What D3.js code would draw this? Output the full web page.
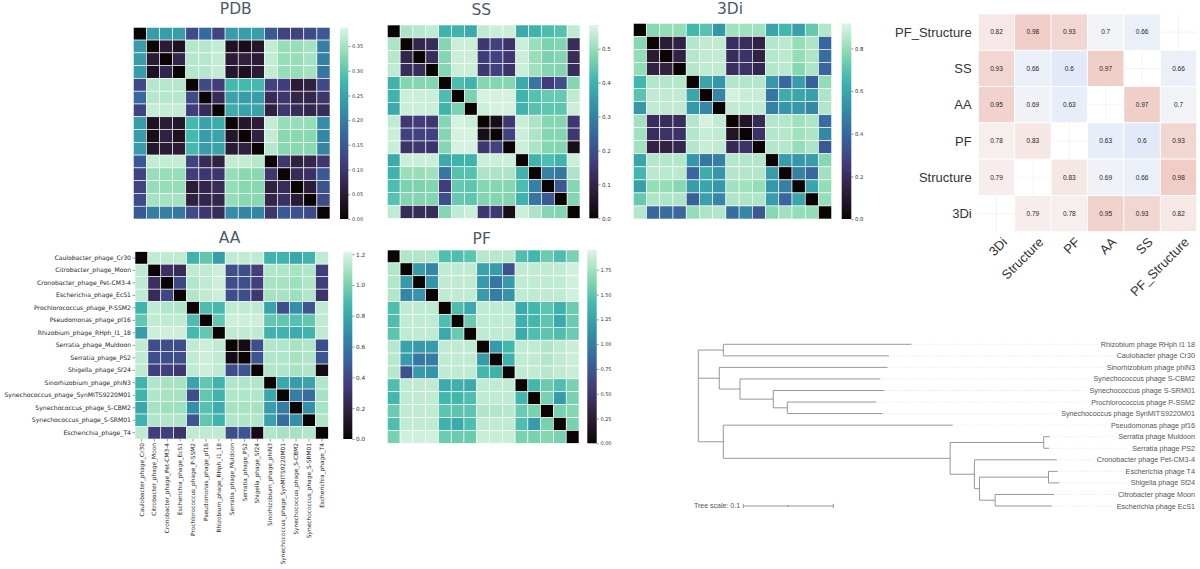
<!DOCTYPE html>
<html><head><meta charset="utf-8">
<script src="https://cdn.jsdelivr.net/npm/d3@7"></script>
<style>body{margin:0;background:#fff;} svg{display:block;}</style>
</head><body>
<svg id="c" width="1200" height="569"></svg>
<script>
const phages = ["Caulobacter_phage_Cr30","Citrobacter_phage_Moon","Cronobacter_phage_Pet-CM3-4","Escherichia_phage_EcS1","Prochlorococcus_phage_P-SSM2","Pseudomonas_phage_pf16","Rhizobium_phage_RHph_I1_18","Serratia_phage_Muldoon","Serratia_phage_PS2","Shigella_phage_Sf24","Sinorhizobium_phage_phiN3","Synechococcus_phage_SynMITS9220M01","Synechococcus_phage_S-CBM2","Synechococcus_phage_S-SRM01","Escherichia_phage_T4"];

const pdbDist = [
[0,0.24,0.24,0.24,0.13,0.17,0.12,0.24,0.24,0.24,0.15,0.12,0.12,0.13,0.15],
[0.24,0,0.05,0.03,0.36,0.36,0.37,0.03,0.02,0.04,0.37,0.34,0.34,0.35,0.20],
[0.24,0.05,0,0.07,0.36,0.36,0.37,0.05,0.06,0.05,0.37,0.34,0.34,0.35,0.20],
[0.24,0.03,0.07,0,0.36,0.36,0.37,0.04,0.03,0.05,0.37,0.34,0.34,0.35,0.19],
[0.13,0.36,0.36,0.36,0,0.13,0.11,0.28,0.28,0.28,0.12,0.11,0.05,0.06,0.13],
[0.17,0.36,0.36,0.36,0.13,0,0.08,0.25,0.24,0.24,0.08,0.10,0.07,0.07,0.10],
[0.12,0.37,0.37,0.37,0.11,0.08,0,0.26,0.25,0.25,0.06,0.10,0.08,0.07,0.08],
[0.24,0.03,0.05,0.04,0.28,0.25,0.26,0,0.04,0.05,0.37,0.34,0.34,0.34,0.22],
[0.24,0.02,0.06,0.03,0.28,0.24,0.25,0.04,0,0.06,0.37,0.33,0.33,0.33,0.21],
[0.24,0.04,0.05,0.05,0.28,0.24,0.25,0.05,0.06,0,0.36,0.33,0.33,0.33,0.21],
[0.15,0.37,0.37,0.37,0.12,0.08,0.06,0.37,0.37,0.36,0,0.10,0.06,0.07,0.10],
[0.12,0.34,0.34,0.34,0.11,0.10,0.10,0.34,0.33,0.33,0.10,0,0.08,0.09,0.15],
[0.12,0.34,0.34,0.34,0.05,0.07,0.08,0.34,0.33,0.33,0.06,0.08,0,0.05,0.14],
[0.13,0.35,0.35,0.35,0.06,0.07,0.07,0.34,0.33,0.33,0.07,0.09,0.05,0,0.13],
[0.15,0.20,0.20,0.19,0.13,0.10,0.08,0.22,0.21,0.21,0.10,0.15,0.14,0.13,0]];

const ssDist = [
[0,0.52,0.53,0.54,0.40,0.40,0.38,0.54,0.55,0.55,0.38,0.40,0.42,0.43,0.54],
[0.52,0,0.10,0.12,0.48,0.55,0.55,0.15,0.17,0.14,0.55,0.50,0.47,0.48,0.12],
[0.53,0.10,0,0.12,0.48,0.55,0.55,0.16,0.17,0.15,0.55,0.50,0.47,0.48,0.12],
[0.54,0.12,0.12,0,0.48,0.55,0.55,0.15,0.17,0.14,0.55,0.51,0.48,0.48,0.12],
[0.40,0.48,0.48,0.48,0,0.42,0.40,0.48,0.48,0.48,0.38,0.28,0.16,0.20,0.48],
[0.40,0.55,0.55,0.55,0.42,0,0.47,0.56,0.56,0.56,0.40,0.43,0.45,0.45,0.54],
[0.38,0.55,0.55,0.55,0.40,0.47,0,0.55,0.56,0.56,0.40,0.43,0.44,0.44,0.55],
[0.54,0.15,0.16,0.15,0.48,0.56,0.55,0,0.03,0.15,0.55,0.52,0.48,0.48,0.15],
[0.55,0.17,0.17,0.17,0.48,0.56,0.56,0.03,0,0.17,0.55,0.52,0.48,0.48,0.15],
[0.55,0.14,0.15,0.14,0.48,0.56,0.56,0.15,0.17,0,0.55,0.52,0.48,0.48,0.03],
[0.38,0.55,0.55,0.55,0.38,0.40,0.40,0.55,0.55,0.55,0,0.40,0.42,0.40,0.55],
[0.40,0.50,0.50,0.51,0.28,0.43,0.43,0.52,0.52,0.52,0.40,0,0.30,0.28,0.52],
[0.42,0.47,0.47,0.48,0.16,0.45,0.44,0.48,0.48,0.48,0.42,0.30,0,0.22,0.48],
[0.43,0.48,0.48,0.48,0.20,0.45,0.44,0.48,0.48,0.48,0.40,0.28,0.22,0,0.48],
[0.54,0.12,0.12,0.12,0.48,0.54,0.55,0.15,0.15,0.03,0.55,0.52,0.48,0.48,0]];

const diDist = [
[0,0.78,0.80,0.80,0.66,0.70,0.55,0.82,0.82,0.82,0.60,0.66,0.58,0.72,0.85],
[0.78,0,0.12,0.15,0.85,0.87,0.87,0.20,0.20,0.15,0.85,0.86,0.80,0.84,0.40],
[0.80,0.12,0,0.15,0.85,0.87,0.87,0.20,0.22,0.15,0.85,0.86,0.80,0.84,0.42],
[0.80,0.15,0.15,0,0.85,0.87,0.87,0.20,0.22,0.17,0.85,0.86,0.78,0.84,0.40],
[0.66,0.85,0.85,0.85,0,0.60,0.55,0.85,0.85,0.85,0.55,0.40,0.57,0.38,0.80],
[0.70,0.87,0.87,0.87,0.60,0,0.50,0.90,0.88,0.88,0.45,0.62,0.60,0.58,0.84],
[0.55,0.87,0.87,0.87,0.55,0.50,0,0.87,0.87,0.87,0.48,0.55,0.55,0.50,0.85],
[0.82,0.20,0.20,0.20,0.85,0.90,0.87,0,0.08,0.18,0.85,0.85,0.82,0.84,0.42],
[0.82,0.20,0.22,0.22,0.85,0.88,0.87,0.08,0,0.22,0.85,0.85,0.82,0.84,0.50],
[0.82,0.15,0.15,0.17,0.85,0.88,0.87,0.18,0.22,0,0.85,0.85,0.80,0.84,0.35],
[0.60,0.85,0.85,0.85,0.55,0.45,0.48,0.85,0.85,0.85,0,0.57,0.55,0.57,0.78],
[0.66,0.86,0.86,0.86,0.40,0.62,0.55,0.85,0.85,0.85,0.57,0,0.48,0.40,0.82],
[0.58,0.80,0.80,0.78,0.57,0.60,0.55,0.82,0.82,0.80,0.55,0.48,0,0.60,0.80],
[0.72,0.84,0.84,0.84,0.38,0.58,0.50,0.84,0.84,0.84,0.57,0.40,0.60,0,0.80],
[0.85,0.40,0.42,0.40,0.80,0.84,0.85,0.42,0.50,0.35,0.78,0.82,0.80,0.80,0]];

const aaDist = [
[0,1.15,1.15,1.15,0.85,0.95,0.75,1.15,1.15,1.15,0.85,0.85,0.80,0.85,1.15],
[1.15,0,0.28,0.25,1.15,1.15,1.18,0.42,0.42,0.35,1.12,1.12,1.10,1.12,0.35],
[1.15,0.28,0,0.38,1.12,1.15,1.18,0.42,0.42,0.35,1.10,1.10,1.08,1.12,0.35],
[1.15,0.25,0.38,0,1.12,1.15,1.18,0.42,0.42,0.32,1.10,1.10,1.08,1.12,0.30],
[0.85,1.15,1.12,1.12,0,0.90,0.88,1.15,1.15,1.15,0.78,0.42,0.70,0.45,1.15],
[0.95,1.15,1.15,1.15,0.90,0,0.95,1.18,1.18,1.18,0.95,0.95,0.92,0.95,1.15],
[0.75,1.18,1.18,1.18,0.88,0.95,0,1.15,1.15,1.15,0.85,0.85,0.82,0.85,1.15],
[1.15,0.42,0.42,0.42,1.15,1.18,1.15,0,0.05,0.42,1.12,1.12,1.10,1.12,0.42],
[1.15,0.42,0.42,0.42,1.15,1.18,1.15,0.05,0,0.45,1.12,1.12,1.10,1.12,0.45],
[1.15,0.35,0.35,0.32,1.15,1.18,1.15,0.42,0.45,0,1.12,1.12,1.10,1.12,0.05],
[0.85,1.12,1.10,1.10,0.78,0.95,0.85,1.12,1.12,1.12,0,0.80,0.75,0.78,1.12],
[0.85,1.12,1.10,1.10,0.42,0.95,0.85,1.12,1.12,1.12,0.80,0,0.62,0.55,1.10],
[0.80,1.10,1.08,1.08,0.70,0.92,0.82,1.10,1.10,1.10,0.75,0.62,0,0.70,1.10],
[0.85,1.12,1.12,1.12,0.45,0.95,0.85,1.12,1.12,1.12,0.78,0.55,0.70,0,1.12],
[1.15,0.35,0.35,0.30,1.15,1.15,1.15,0.42,0.45,0.05,1.12,1.10,1.10,1.12,0]];

const pfDist = [
[0,1.80,1.80,1.80,1.45,1.45,1.50,1.82,1.82,1.82,1.45,1.40,1.55,1.45,1.60],
[1.80,0,1.20,1.05,1.85,1.85,1.85,1.25,1.20,0.70,1.85,1.85,1.85,1.85,1.90],
[1.80,1.20,0,1.15,1.85,1.85,1.85,1.20,0.95,1.20,1.85,1.85,1.85,1.85,1.90],
[1.80,1.05,1.15,0,1.85,1.85,1.85,1.20,1.00,1.15,1.85,1.85,1.85,1.85,1.90],
[1.45,1.85,1.85,1.85,0,1.45,1.30,1.85,1.85,1.85,1.30,1.40,1.50,1.35,1.55],
[1.45,1.85,1.85,1.85,1.45,0,1.55,1.85,1.85,1.85,1.35,1.40,1.50,1.30,1.55],
[1.50,1.85,1.85,1.85,1.30,1.55,0,1.85,1.85,1.85,1.30,1.45,1.50,1.45,1.55],
[1.82,1.25,1.20,1.20,1.85,1.85,1.85,0,1.20,1.40,1.85,1.85,1.80,1.85,1.88],
[1.82,1.20,0.95,1.00,1.85,1.85,1.85,1.20,0,1.35,1.85,1.85,1.80,1.85,1.88],
[1.82,0.70,1.20,1.15,1.85,1.85,1.85,1.40,1.35,0,1.85,1.85,1.82,1.85,1.88],
[1.45,1.85,1.85,1.85,1.30,1.35,1.30,1.85,1.85,1.85,0,1.40,1.55,1.45,1.60],
[1.40,1.85,1.85,1.85,1.40,1.40,1.45,1.85,1.85,1.85,1.40,0,1.60,1.20,1.60],
[1.55,1.85,1.85,1.85,1.50,1.50,1.50,1.80,1.80,1.82,1.55,1.60,0,1.60,1.65],
[1.45,1.85,1.85,1.85,1.35,1.30,1.45,1.85,1.85,1.85,1.45,1.20,1.60,0,1.60],
[1.60,1.90,1.90,1.90,1.55,1.55,1.55,1.88,1.88,1.88,1.60,1.60,1.65,1.60,0]];

const pdbTicks = [0,0.05,0.10,0.15,0.20,0.25,0.30,0.35];
const ssTicks = [0,0.1,0.2,0.3,0.4,0.5];
const diTicks = [0,0.2,0.4,0.6,0.8];
const aaTicks = [0,0.2,0.4,0.6,0.8,1.0,1.2];
const pfTicks = [0,0.25,0.5,0.75,1.0,1.25,1.5,1.75];
const vmax = {PDB:0.388, SS:0.57, "3Di":0.918, AA:1.216, PF:1.95};

const corrRows = ["PF_Structure","SS","AA","PF","Structure","3Di"];
const corrCols = ["3Di","Structure","PF","AA","SS","PF_Structure"];
const corrValues = [
[0.82,0.98,0.93,0.7,0.66,null],
[0.93,0.66,0.6,0.97,null,0.66],
[0.95,0.69,0.63,null,0.97,0.7],
[0.78,0.83,null,0.63,0.6,0.93],
[0.79,null,0.83,0.69,0.66,0.98],
[null,0.79,0.78,0.95,0.93,0.82]];

const treeData = {children:[
  {len:0.0278, children:[{name:"Rhizobium phage RHph I1 18",len:0.209},{name:"Caulobacter phage Cr30",len:0.184}]},
  {len:0.0233, children:[
    {name:"Sinorhizobium phage phiN3",len:0.187},
    {len:0.023, children:[
      {name:"Synechococcus phage S-CBM2",len:0.156},
      {len:0.037, children:[
        {name:"Synechococcus phage S-SRM01",len:0.123},
        {len:0.0156, children:[
          {name:"Prochlorococcus phage P-SSM2",len:0.099},
          {name:"Synechococcus phage SynMITS9220M01",len:0.106}]}]}]}]},
  {len:0.0278, children:[
    {name:"Pseudomonas phage pf16",len:0.255},
    {len:0.252, children:[
      {len:0.104, children:[{name:"Serratia phage Muldoon",len:0.0067},{name:"Serratia phage PS2",len:0.006}]},
      {len:0.027, children:[
        {name:"Cronobacter phage Pet-CM3-4",len:0.0916},
        {len:0.0056, children:[
          {len:0.0767, children:[{name:"Escherichia phage T4",len:0.0104},{name:"Shigella phage Sf24",len:0.0122}]},
          {len:0.0174, children:[{name:"Citrobacter phage Moon",len:0.0656},{name:"Escherichia phage EcS1",len:0.063}]}]}]}]}]}
]};
const treeScaleValue = 0.1;

// mako colormap approximation
const makoPos = [0,1/7,2/7,3/7,4/7,5/7,6/7,1];
const makoCol = ["#0b0405","#2e1e3b","#413d7b","#37659e","#348fa7","#40b7ad","#8bdab2","#def5e5"];

const svg = d3.select("#c");
const defs = svg.append("defs");
const HM_FONT = "DejaVu Sans, sans-serif";
const SANS = "Liberation Sans, Arial, sans-serif";

const panels = [
  {name:"PDB", data:pdbDist, ticks:pdbTicks, fmt:".2f", x:133.3, y:27.3, w:196.7, h:191.7, cbx:340, cbw:8.3, tx:235.8, ty:14.2, fs:5},
  {name:"SS", data:ssDist, ticks:ssTicks, fmt:".1f", x:387.3, y:25, w:192.7, h:193.3, cbx:589.3, cbw:9, tx:481.3, ty:14.5, fs:5.6},
  {name:"3Di", data:diDist, ticks:diTicks, fmt:".1f", x:633.3, y:23.3, w:198.4, h:195.7, cbx:841.7, cbw:9.6, tx:730, ty:14.2, fs:5.3},
  {name:"AA", data:aaDist, ticks:aaTicks, fmt:".1f", x:135, y:251.7, w:193.3, h:187.3, cbx:343.3, cbw:9, tx:229.5, ty:242.7, fs:5.8, labels:true},
  {name:"PF", data:pfDist, ticks:pfTicks, fmt:".2f", x:387.3, y:250, w:191.7, h:193.3, cbx:587.3, cbw:9.4, tx:481.7, ty:244.3, fs:5}
];

panels.forEach((p,pi)=>{
  const max = vmax[p.name];
  const color = d3.scaleLinear().domain(makoPos.map(t=>t*max)).range(makoCol).clamp(true);
  const x = d3.scaleBand().domain(d3.range(phages.length)).range([p.x,p.x+p.w]);
  const y = d3.scaleBand().domain(d3.range(phages.length)).range([p.y,p.y+p.h]);
  const g = svg.append("g");
  const cells = [];
  p.data.forEach((row,i)=>row.forEach((v,j)=>cells.push({i,j,v})));
  g.selectAll("rect").data(cells).join("rect")
    .attr("x",d=>x(d.j)).attr("y",d=>y(d.i))
    .attr("width",x.bandwidth()).attr("height",y.bandwidth())
    .attr("fill",d=>color(d.v)).attr("stroke","#fff").attr("stroke-width",0.6);
  svg.append("text").attr("x",p.tx).attr("y",p.ty).attr("text-anchor","middle")
    .attr("font-family",HM_FONT).attr("font-size",15.5).attr("fill","#4e5966").text(p.name);
  const gid = "grad"+pi;
  const grad = defs.append("linearGradient").attr("id",gid).attr("x1",0).attr("y1",1).attr("x2",0).attr("y2",0);
  makoPos.forEach((t,k)=>grad.append("stop").attr("offset",t).attr("stop-color",makoCol[k]));
  svg.append("rect").attr("x",p.cbx).attr("y",p.y).attr("width",p.cbw).attr("height",p.h).attr("fill",`url(#${gid})`);
  const cy = d3.scaleLinear().domain([0,max]).range([p.y+p.h,p.y]);
  const ax = svg.append("g").attr("transform",`translate(${p.cbx+p.cbw},0)`)
    .call(d3.axisRight(cy).tickValues(p.ticks).tickFormat(d3.format(p.fmt)).tickSize(2.2).tickPadding(1.5));
  ax.select(".domain").remove();
  ax.selectAll("line").attr("stroke","#333").attr("stroke-width",0.5);
  ax.selectAll("text").attr("font-family",HM_FONT).attr("font-size",p.fs).attr("fill","#333");
  if(p.labels){
    const ly = d3.scaleBand().domain(phages).range([p.y,p.y+p.h]);
    const lx = d3.scaleBand().domain(phages).range([p.x,p.x+p.w]);
    const ay = svg.append("g").attr("transform",`translate(${p.x},0)`)
      .call(d3.axisLeft(ly).tickSize(2.5).tickPadding(1.5));
    ay.select(".domain").remove();
    ay.selectAll("line").attr("stroke","#333").attr("stroke-width",0.5);
    ay.selectAll("text").attr("font-family",HM_FONT).attr("font-size",6.1).attr("fill","#262626");
    const axb = svg.append("g").attr("transform",`translate(0,${p.y+p.h})`)
      .call(d3.axisBottom(lx).tickSize(2.5).tickPadding(1.5));
    axb.select(".domain").remove();
    axb.selectAll("line").attr("stroke","#333").attr("stroke-width",0.5);
    axb.selectAll("text").attr("font-family",HM_FONT).attr("font-size",5.85).attr("fill","#262626")
      .attr("transform","rotate(-90)").attr("text-anchor","end").attr("x",-4).attr("y",0).attr("dy","0.35em");
  }
});

// correlation matrix
(function(){
  const cx = d3.scaleBand().domain(corrCols).range([978.3,1196.7]);
  const cy = d3.scaleBand().domain(corrRows).range([14,231.7]);
  const cc = d3.scaleLinear().domain([0.6,0.74,0.98]).range(["#e2eafa","#f8f6f6","#f1cdc7"]);
  const g = svg.append("g");
  corrCols.forEach(c=>g.append("line").attr("x1",cx(c)+cx.bandwidth()/2).attr("x2",cx(c)+cx.bandwidth()/2)
     .attr("y1",14).attr("y2",231.7).attr("stroke","#ececec").attr("stroke-width",0.6));
  corrRows.forEach(r=>g.append("line").attr("y1",cy(r)+cy.bandwidth()/2).attr("y2",cy(r)+cy.bandwidth()/2)
     .attr("x1",978.3).attr("x2",1196.7).attr("stroke","#ececec").attr("stroke-width",0.6));
  const cells=[];
  corrValues.forEach((row,i)=>row.forEach((v,j)=>{ if(v!==null) cells.push({r:corrRows[i],c:corrCols[j],v}); }));
  g.selectAll("rect.cc").data(cells).join("rect").attr("class","cc")
    .attr("x",d=>cx(d.c)).attr("y",d=>cy(d.r)).attr("width",cx.bandwidth()).attr("height",cy.bandwidth())
    .attr("fill",d=>cc(d.v)).attr("stroke","#fff").attr("stroke-width",0.8);
  g.selectAll("text.cv").data(cells).join("text").attr("class","cv")
    .attr("x",d=>cx(d.c)+cx.bandwidth()/2).attr("y",d=>cy(d.r)+cy.bandwidth()/2).attr("dy","0.35em")
    .attr("text-anchor","middle").attr("font-family",SANS).attr("font-size",6.5)
    .attr("fill","#262626").text(d=>String(d.v));
  g.selectAll("text.rl").data(corrRows).join("text").attr("class","rl")
    .attr("x",971.7).attr("y",d=>cy(d)+cy.bandwidth()/2).attr("dy","0.35em").attr("text-anchor","end")
    .attr("font-family",SANS).attr("font-size",13).attr("fill","#333").text(d=>d);
  g.selectAll("text.cl").data(corrCols).join("text").attr("class","cl")
    .attr("transform",d=>`translate(${cx(d)+cx.bandwidth()/2+5},${236.5}) rotate(-45)`)
    .attr("text-anchor","end").attr("dy","0.7em")
    .attr("font-family",SANS).attr("font-size",13).attr("fill","#333").text(d=>d);
})();

// tree
(function(){
  const root = d3.hierarchy(treeData);
  root.each(n=>{ n.dist = n.parent ? n.parent.dist + n.data.len : 0; });
  const leaves = root.leaves();
  const xs = d3.scaleLinear().domain([0,treeScaleValue]).range([698.3,788.3]);
  const ys = d3.scalePoint().domain(leaves.map(l=>l.data.name)).range([344.3,506]);
  root.eachAfter(n=>{ n.yy = n.children ? d3.mean(n.children,c=>c.yy) : ys(n.data.name); });
  const g = svg.append("g");
  const st = {stroke:"#8c8c8c", w:0.9};
  root.descendants().forEach(n=>{
    if(n.parent){
      g.append("line").attr("x1",xs(n.parent.dist)).attr("x2",xs(n.dist)).attr("y1",n.yy).attr("y2",n.yy)
        .attr("stroke",st.stroke).attr("stroke-width",st.w);
    }
    if(n.children){
      g.append("line").attr("x1",xs(n.dist)).attr("x2",xs(n.dist))
        .attr("y1",n.children[0].yy).attr("y2",n.children[n.children.length-1].yy)
        .attr("stroke",st.stroke).attr("stroke-width",st.w);
    }
  });
  leaves.forEach(l=>{
    const t = g.append("text").attr("x",1195).attr("y",l.yy).attr("dy","0.35em").attr("text-anchor","end")
      .attr("font-family",SANS).attr("font-size",7.2).attr("fill","#555").text(l.data.name);
    const tw = t.node().getComputedTextLength();
    g.append("line").attr("x1",xs(l.dist)+2).attr("x2",1195-tw-3).attr("y1",l.yy).attr("y2",l.yy)
      .attr("stroke","#cfcfcf").attr("stroke-width",0.6).attr("stroke-dasharray","1,2");
  });
  const bx0 = 743.3, by = 506;
  const blen = xs(treeScaleValue)-xs(0);
  g.append("text").attr("x",694).attr("y",by).attr("dy","0.35em").attr("font-family",SANS)
    .attr("font-size",7).attr("fill","#555").text("Tree scale: "+treeScaleValue);
  g.append("line").attr("x1",bx0).attr("x2",bx0+blen).attr("y1",by).attr("y2",by).attr("stroke","#8c8c8c").attr("stroke-width",0.9);
  [[0,2.2],[0.5,1],[1,2.2]].forEach(([f,hh])=>g.append("line").attr("x1",bx0+f*blen).attr("x2",bx0+f*blen)
     .attr("y1",by-hh).attr("y2",by+hh).attr("stroke","#8c8c8c").attr("stroke-width",0.9));
})();
</script>
</body></html>
